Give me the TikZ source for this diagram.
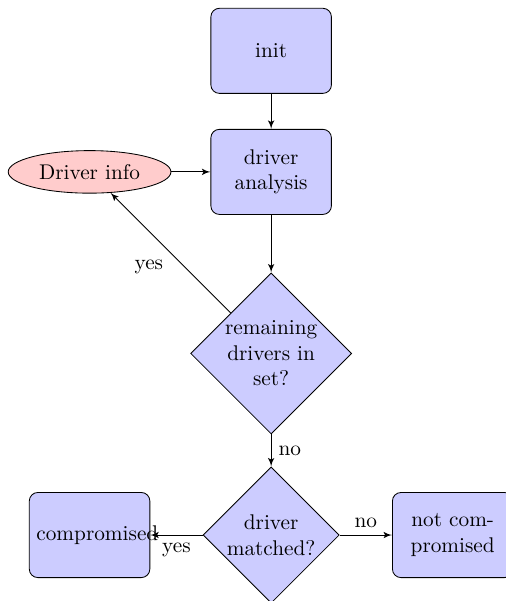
\documentclass[tikz,border=0pt]{standalone}
\usetikzlibrary{shapes,arrows}
\begin{document}
\begin{tikzpicture}[auto,
    block/.style={rectangle, draw, fill=blue!20, text width=5em, text centered, rounded corners, minimum height=4em},
    decision/.style={diamond, draw, fill=blue!20, text width=4.5em, text badly centered, inner sep=0pt},
    cloud/.style={draw, ellipse, fill=red!20, minimum height=2em},
    line/.style={draw, -latex'}]
      \useasboundingbox (-4.48,-9.09) rectangle (3.87,0.84);

      \node[block] (init) at (0, 0) {init};
      \node[block] (analysis) at (0, -2) {driver analysis};
      \node[cloud] (info) at (-3, -2) {Driver info};
      \node[decision] (remaining) at (0, -5) {remaining drivers in set?};
      \node[decision] (matched) at (0, -8) {driver matched?};
      \node[block] (comp) at (-3, -8) {compromised};
      \node[block] (notcomp) at (3, -8) {not compromised};

      \path[line] (init) -- (analysis);
      \path[line] (info) -- (analysis);
      \path[line] (analysis) -- (remaining);
      \path[line] (remaining) -- node {yes} (info);
      \path[line] (remaining) -- node {no} (matched);
      \path[line] (matched) -- node {yes} (comp);
      \path[line] (matched) -- node {no} (notcomp);

    \end{tikzpicture}
\end{document}
